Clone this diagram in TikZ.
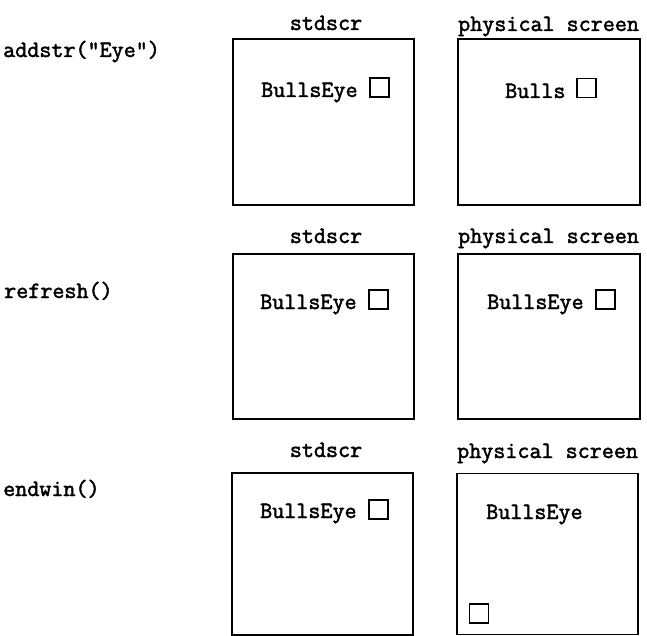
\documentclass[tikz,border=0pt]{standalone}
\usepackage{fontspec}
\newfontfamily\typefont[FakeBold=2]{Latin Modern Mono}
\begin{document}
\begin{tikzpicture}[x=1pt,y=-1pt,
  txt/.style={inner sep=0pt,font=\typefont\fontsize{23.4}{28}\selectfont},
  screenbox/.style={draw,line width=1.6pt,inner sep=0pt,anchor=north west},
  cursor/.style={draw,line width=1.6pt,inner sep=0pt,minimum size=19pt,anchor=south west}]
\useasboundingbox (0,0) rectangle (647,636);
% row 1
\node[txt,anchor=base west] (c1) at (3,57) {addstr("Eye")};
\node[txt,anchor=base] (l1s) at (326,30) {stdscr};
\node[txt,anchor=base west] (l1p) at (458,31) {physical screen};
\node[screenbox,minimum width=181pt,minimum height=166pt] (s1) at (232,38) {};
\node[screenbox,minimum width=182pt,minimum height=166pt] (p1) at (457,38) {};
\node[txt,anchor=base west] (t1s) at (261,97) {BullsEye};
\node[cursor] (k1s) at (369,98) {};
\node[txt,anchor=base west] (t1p) at (505,98) {Bulls};
\node[cursor] (k1p) at (576,98.5) {};
% row 2
\node[txt,anchor=base west] (c2) at (4,298) {refresh()};
\node[txt,anchor=base] (l2s) at (326,243) {stdscr};
\node[txt,anchor=base west] (l2p) at (458,243) {physical screen};
\node[screenbox,minimum width=181pt,minimum height=165pt] (s2) at (232,253) {};
\node[screenbox,minimum width=182pt,minimum height=165pt] (p2) at (457,253) {};
\node[txt,anchor=base west] (t2s) at (260,309) {BullsEye};
\node[cursor] (k2s) at (368,310) {};
\node[txt,anchor=base west] (t2p) at (487,309) {BullsEye};
\node[cursor] (k2p) at (595,309.5) {};
% row 3
\node[txt,anchor=base west] (c3) at (3,496) {endwin()};
\node[txt,anchor=base] (l3s) at (326,457) {stdscr};
\node[txt,anchor=base west] (l3p) at (457,458) {physical screen};
\node[screenbox,minimum width=181pt,minimum height=162pt] (s3) at (231,472) {};
\node[screenbox,minimum width=181pt,minimum height=161pt] (p3) at (456,472.5) {};
\node[txt,anchor=base west] (t3s) at (260,518) {BullsEye};
\node[cursor] (k3s) at (368,520) {};
\node[txt,anchor=base west] (t3p) at (486,519) {BullsEye};
\node[cursor] (k3p) at (468.5,623.5) {};
\end{tikzpicture}
\end{document}
